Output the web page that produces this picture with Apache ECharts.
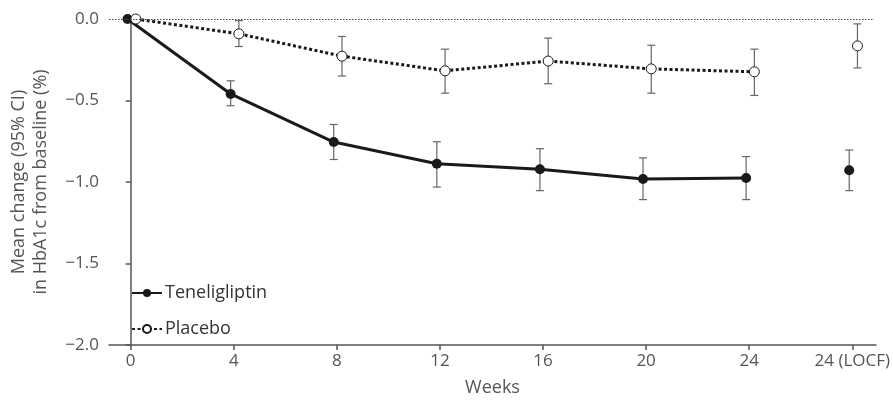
<!DOCTYPE html>
<html>
<head>
<meta charset="utf-8">
<script src="https://cdn.jsdelivr.net/npm/echarts@6/dist/echarts.min.js"></script>
<style>html,body{margin:0;padding:0;background:#fff}#c{width:893px;height:402px}</style>
</head>
<body>
<div id="c"></div>
<script>
var categories = ['0', '4', '8', '12', '16', '20', '24', '24 (LOCF)'];
var yTicks = [0, -0.5, -1.0, -1.5, -2.0];
var teneMean = [0, -0.46, -0.755, -0.888, -0.922, -0.982, -0.975, -0.928];
var teneLow  = [null, -0.532, -0.862, -1.031, -1.053, -1.108, -1.108, -1.053];
var teneHigh = [null, -0.379, -0.647, -0.753, -0.796, -0.852, -0.844, -0.804];
var placMean = [0, -0.091, -0.228, -0.318, -0.258, -0.306, -0.324, -0.165];
var placLow  = [null, -0.169, -0.350, -0.455, -0.397, -0.455, -0.469, -0.300];
var placHigh = [null, -0.010, -0.107, -0.185, -0.117, -0.161, -0.185, -0.030];

var TENE_OFF = -0.03, PLAC_OFF = 0.05;
var LOCF = categories.length - 1;
var FONT = '"Open Sans", sans-serif';

function linePts(mean, off) {
  var out = [];
  for (var i = 0; i < LOCF; i++) out.push([i + off, mean[i]]);
  return out;
}
function locfPt(mean, off) { return [[LOCF + off, mean[LOCF]]]; }
function errPts(low, high, off) {
  var out = [];
  for (var i = 0; i < low.length; i++) if (low[i] != null) out.push([i + off, low[i], high[i]]);
  return out;
}
function errRender(params, api) {
  var x = api.value(0);
  var lo = api.coord([x, api.value(1)]);
  var hi = api.coord([x, api.value(2)]);
  var w = 4;
  var st = {stroke: '#666', lineWidth: 1.2};
  return {type: 'group', children: [
    {type: 'line', shape: {x1: lo[0], y1: lo[1], x2: hi[0], y2: hi[1]}, style: st},
    {type: 'line', shape: {x1: lo[0] - w, y1: lo[1], x2: lo[0] + w, y2: lo[1]}, style: st},
    {type: 'line', shape: {x1: hi[0] - w, y1: hi[1], x2: hi[0] + w, y2: hi[1]}, style: st}
  ]};
}

var ticksIdx = categories.map(function (c, i) { return i; });
var teneStyle = {color: '#1a1a1a', width: 3, type: 'solid'};
var placStyle = {color: '#1a1a1a', width: 3, type: [3, 2.5]};
var teneItem = {color: '#1a1a1a', opacity: 1};
var placItem = {color: '#fff', borderColor: '#1a1a1a', borderWidth: 1, opacity: 1};

var chart = echarts.init(document.getElementById('c'));
chart.setOption({
  animation: false,
  textStyle: {fontFamily: FONT},
  grid: {left: 108, right: 12, top: 19, bottom: 51, containLabel: false},
  legend: {
    orient: 'vertical', left: 126, top: 279, itemGap: 18, itemWidth: 30, itemHeight: 10,
    data: ['Teneligliptin', 'Placebo'],
    textStyle: {fontSize: 18, color: '#333', fontFamily: FONT, padding: [0, 0, 0, -2]}
  },
  xAxis: {
    type: 'value', min: -0.21, max: 7.23,
    name: 'Weeks', nameLocation: 'middle', nameGap: 34,
    nameTextStyle: {fontSize: 18, color: '#555', fontFamily: FONT},
    axisLine: {show: true, onZero: false, lineStyle: {color: '#555', width: 1.5}},
    axisTick: {show: true, length: 5, customValues: ticksIdx, lineStyle: {color: '#555', width: 1.5}},
    axisLabel: {fontSize: 17, color: '#555', margin: 8, customValues: ticksIdx,
      formatter: function (v) { return categories[Math.round(v)]; }},
    splitLine: {show: false}
  },
  yAxis: {
    type: 'value', min: -2, max: 0, interval: 0.5,
    name: 'Mean change (95% CI)\nin HbA1c from baseline (%)', nameLocation: 'middle', nameGap: 57,
    nameTextStyle: {fontSize: 18, color: '#555', lineHeight: 22, fontFamily: FONT},
    axisLine: {show: true, lineStyle: {color: '#555', width: 1.5}},
    axisTick: {show: true, length: 5, lineStyle: {color: '#555', width: 1.5}},
    axisLabel: {fontSize: 17, color: '#555', margin: 10,
      formatter: function (v) { return (v < 0 ? '\u2212' : '') + Math.abs(v).toFixed(1); }},
    splitLine: {show: false}
  },
  series: [
    {
      name: 'ref', type: 'line', data: [], silent: true,
      markLine: {silent: true, symbol: 'none', label: {show: false},
        lineStyle: {color: '#444', width: 1, type: [1.5, 1.5]},
        data: [[{coord: [-0.21, 0]}, {coord: [7.2, 0]}]]}
    },
    {name: 'teneErr', type: 'custom', renderItem: errRender, data: errPts(teneLow, teneHigh, TENE_OFF), z: 1},
    {name: 'placErr', type: 'custom', renderItem: errRender, data: errPts(placLow, placHigh, PLAC_OFF), z: 1},
    {name: 'Teneligliptin', type: 'line', data: linePts(teneMean, TENE_OFF), symbol: 'circle', symbolSize: 10,
      lineStyle: teneStyle, itemStyle: teneItem, z: 3},
    {name: 'teneLOCF', type: 'scatter', data: locfPt(teneMean, TENE_OFF), symbol: 'circle', symbolSize: 10,
      itemStyle: teneItem, z: 3},
    {name: 'Placebo', type: 'line', data: linePts(placMean, PLAC_OFF), symbol: 'circle', symbolSize: 10,
      lineStyle: placStyle, itemStyle: placItem, z: 4},
    {name: 'placLOCF', type: 'scatter', data: locfPt(placMean, PLAC_OFF), symbol: 'circle', symbolSize: 10,
      itemStyle: placItem, z: 4}
  ]
});
</script>
</body>
</html>
